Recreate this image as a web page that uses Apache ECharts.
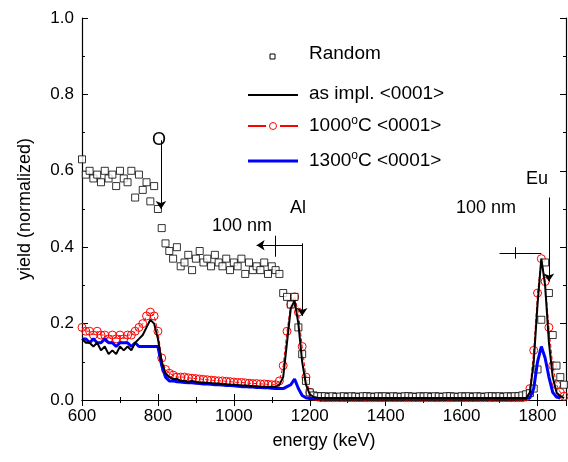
<!DOCTYPE html><html><head><meta charset="utf-8"><script src="https://cdn.jsdelivr.net/npm/echarts@6/dist/echarts.min.js"></script>
<style>body{margin:0}#c{width:568px;height:462px}</style></head><body><div id="c"></div><script>
const startE=600, stepE=10;
const randomY=[0.63,0.59,0.60,0.58,0.59,0.57,0.60,0.58,0.59,0.56,0.60,0.58,0.57,0.60,0.53,0.59,0.55,0.57,0.52,0.56,0.50,0.45,0.41,0.39,0.37,0.40,0.35,0.36,0.38,0.34,0.37,0.39,0.36,0.37,0.35,0.38,0.36,0.35,0.37,0.34,0.36,0.35,0.37,0.33,0.36,0.34,0.35,0.34,0.36,0.33,0.35,0.34,0.33,0.28,0.27,0.25,0.27,0.19,0.12,0.05,0.02,0.012,0.01,0.01,0.01,0.008,0.01,0.008,0.009,0.01,0.008,0.01,0.009,0.008,0.01,0.01,0.009,0.008,0.01,0.009,0.01,0.008,0.01,0.009,0.008,0.01,0.01,0.009,0.008,0.01,0.009,0.01,0.008,0.01,0.009,0.008,0.01,0.01,0.009,0.008,0.01,0.009,0.01,0.008,0.01,0.009,0.008,0.01,0.01,0.009,0.01,0.008,0.01,0.009,0.01,0.01,0.012,0.015,0.018,0.03,0.08,0.21,0.36,0.28,0.17,0.09,0.06,0.04,0.025,0.015];
const implY=[0.16,0.15,0.15,0.14,0.15,0.13,0.14,0.12,0.13,0.12,0.14,0.13,0.14,0.13,0.15,0.16,0.17,0.19,0.21,0.20,0.16,0.10,0.07,0.06,0.055,0.055,0.05,0.05,0.048,0.05,0.047,0.046,0.045,0.045,0.044,0.043,0.043,0.042,0.041,0.04,0.04,0.039,0.038,0.038,0.037,0.036,0.036,0.035,0.035,0.034,0.035,0.034,0.04,0.06,0.15,0.24,0.26,0.20,0.10,0.04,0.015,0.008,0.006,0.005,0.005,0.005,0.005,0.005,0.005,0.005,0.005,0.005,0.005,0.005,0.005,0.005,0.005,0.005,0.005,0.005,0.005,0.005,0.005,0.005,0.005,0.005,0.005,0.005,0.005,0.005,0.005,0.005,0.005,0.005,0.005,0.005,0.005,0.005,0.005,0.005,0.005,0.005,0.005,0.005,0.005,0.005,0.005,0.005,0.005,0.005,0.005,0.005,0.005,0.005,0.005,0.005,0.005,0.005,0.02,0.10,0.25,0.37,0.30,0.15,0.06,0.02,0.01,0.005];
const anneal1000Y=[0.19,0.18,0.18,0.17,0.18,0.17,0.17,0.16,0.17,0.16,0.17,0.16,0.17,0.17,0.18,0.19,0.20,0.22,0.23,0.22,0.18,0.11,0.08,0.07,0.065,0.06,0.06,0.06,0.058,0.057,0.056,0.055,0.054,0.053,0.052,0.051,0.05,0.05,0.049,0.048,0.047,0.046,0.046,0.045,0.044,0.043,0.043,0.042,0.042,0.041,0.04,0.04,0.05,0.09,0.18,0.25,0.27,0.23,0.14,0.06,0.02,0.01,0.008,0.006,0.006,0.006,0.006,0.006,0.006,0.006,0.006,0.006,0.006,0.006,0.006,0.006,0.006,0.006,0.006,0.006,0.006,0.006,0.006,0.006,0.006,0.006,0.006,0.006,0.006,0.006,0.006,0.006,0.006,0.006,0.006,0.006,0.006,0.006,0.006,0.006,0.006,0.006,0.006,0.006,0.006,0.006,0.006,0.006,0.006,0.006,0.006,0.006,0.006,0.006,0.006,0.006,0.006,0.008,0.03,0.13,0.28,0.37,0.31,0.19,0.09,0.04,0.02,0.01];
const anneal1300Y=[0.16,0.16,0.15,0.16,0.15,0.15,0.16,0.15,0.15,0.14,0.15,0.15,0.15,0.14,0.15,0.14,0.14,0.14,0.14,0.14,0.14,0.09,0.06,0.05,0.05,0.048,0.047,0.046,0.045,0.045,0.044,0.043,0.042,0.042,0.041,0.04,0.04,0.039,0.038,0.038,0.037,0.036,0.035,0.035,0.034,0.034,0.033,0.033,0.032,0.032,0.031,0.03,0.03,0.03,0.035,0.04,0.055,0.03,0.012,0.006,0.004,0.004,0.004,0.004,0.004,0.004,0.004,0.004,0.004,0.004,0.004,0.004,0.004,0.004,0.004,0.004,0.004,0.004,0.004,0.004,0.004,0.004,0.004,0.004,0.004,0.004,0.004,0.004,0.004,0.004,0.004,0.004,0.004,0.004,0.004,0.004,0.004,0.004,0.004,0.004,0.004,0.004,0.004,0.004,0.004,0.004,0.004,0.004,0.004,0.004,0.004,0.004,0.004,0.004,0.004,0.004,0.004,0.004,0.006,0.03,0.10,0.14,0.11,0.06,0.02,0.008,0.005];
const legendNames=['Random','as impl. <0001>','1000°C <0001>','1300°C <0001>'];
const pts=a=>a.map((y,i)=>[startE+i*stepE,y]);
const F='Liberation Sans';
const arrowLine=(a,b)=>[{coord:a,symbol:'none'},{coord:b,symbol:'arrow'}];
const plain=(a,b)=>[{coord:a,symbol:'none'},{coord:b,symbol:'none'}];
const txt=(l,t,s)=>({type:'text',left:l,top:t,style:{text:s,fontSize:18,fontFamily:F,fill:'#000'}});
const legTxt=(t,s)=>({type:'text',left:309,top:t-11,style:{rich:{a:{fontSize:19,fontFamily:F,fill:'#000'},s:{fontSize:12,fontFamily:F,fill:'#000',verticalAlign:'top',padding:[0,0,10,0]}},text:s.replace(/(.*)°(.*)/,'{a|$1}{s|o}{a|$2}').replace(/^([^{].*)$/,'{a|$1}')}});
const ax={axisLine:{show:true,lineStyle:{color:'#000',width:1.2}},axisTick:{show:true,inside:true,length:6,lineStyle:{color:'#000'}},minorTick:{show:true,splitNumber:2,length:3,lineStyle:{color:'#000'}},splitLine:{show:false}};
const ch=echarts.init(document.getElementById('c'));
ch.setOption({animation:false,
grid:{left:82,right:2,top:18,bottom:62},
xAxis:[Object.assign({type:'value',min:600,max:1875,interval:200,axisLabel:{color:'#000',fontSize:17,fontFamily:F,showMaxLabel:false,formatter:v=>String(v)},name:'energy (keV)',nameLocation:'middle',nameGap:32,nameTextStyle:{fontSize:18,fontFamily:F,color:'#000'}},ax),
Object.assign({type:'value',position:'top',min:600,max:1875,interval:200,axisLabel:{show:false}},ax)],
yAxis:[Object.assign({type:'value',min:0,max:1,interval:0.2,axisLabel:{color:'#000',fontSize:17,fontFamily:F,formatter:v=>v.toFixed(1)},name:'yield (normalized)',nameLocation:'middle',nameGap:48,nameTextStyle:{fontSize:18,fontFamily:F,color:'#000'}},ax),
Object.assign({type:'value',position:'right',min:0,max:1,interval:0.2,axisLabel:{show:false}},ax)],
series:[
{name:legendNames[0],type:'scatter',data:pts(randomY),symbol:'rect',symbolSize:7,itemStyle:{color:'#fff',borderColor:'#000',borderWidth:1},z:3},
{name:legendNames[1],type:'line',data:pts(implY),showSymbol:false,lineStyle:{color:'#000',width:2},z:5},
{name:legendNames[2],type:'line',data:pts(anneal1000Y),symbol:'circle',symbolSize:8,itemStyle:{color:'none',borderColor:'#f00',borderWidth:1},lineStyle:{color:'#f00',width:1,type:'dashed'},z:2},
{name:legendNames[3],type:'line',data:pts(anneal1300Y),showSymbol:false,lineStyle:{color:'#00f',width:3},z:4,
 markLine:{silent:true,symbolSize:8,label:{show:false},lineStyle:{color:'#000',width:1,type:'solid'},data:[
  arrowLine([808,0.68],[808,0.5]),
  arrowLine([1180,0.41],[1180,0.22]),
  arrowLine([1180,0.405],[1060,0.405]),
  plain([1110,0.375],[1110,0.43]),
  arrowLine([1830,0.53],[1830,0.31]),
  plain([1700,0.385],[1810,0.385]),
  plain([1740,0.37],[1740,0.4])]}}
],
graphic:[
 txt(152,131,'O'),txt(290,199,'Al'),txt(212,217,'100 nm'),txt(526,170,'Eu'),txt(456,199,'100 nm'),
 {type:'rect',shape:{x:270,y:54,width:5,height:5},style:{fill:'#fff',stroke:'#000',lineWidth:1}},
 {type:'line',shape:{x1:248,y1:95,x2:298,y2:95},style:{stroke:'#000',lineWidth:2}},
 {type:'line',shape:{x1:248,y1:126,x2:266,y2:126},style:{stroke:'#f00',lineWidth:2}},
 {type:'line',shape:{x1:280,y1:126,x2:298,y2:126},style:{stroke:'#f00',lineWidth:2}},
 {type:'circle',shape:{cx:273,cy:126,r:3.5},style:{fill:'none',stroke:'#f00',lineWidth:1}},
 {type:'line',shape:{x1:248,y1:161,x2:298,y2:161},style:{stroke:'#00f',lineWidth:3}},
 legTxt(55,legendNames[0]),legTxt(95,legendNames[1]),legTxt(126,legendNames[2]),legTxt(161,legendNames[3])
]});
</script></body></html>
